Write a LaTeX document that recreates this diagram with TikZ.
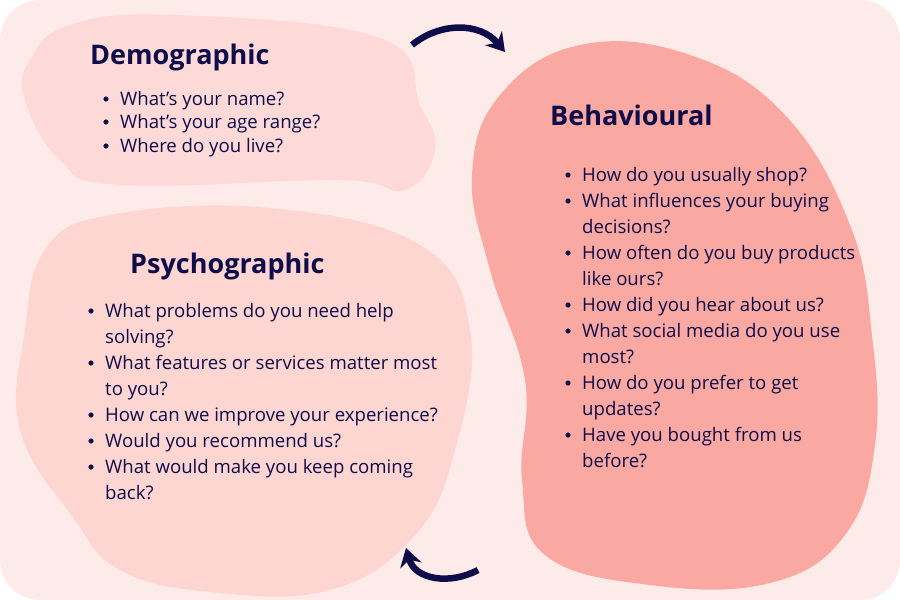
\documentclass[tikz,border=0pt]{standalone}
\usepackage{fontspec}
\setmainfont{Open Sans}
\usetikzlibrary{arrows.meta}
\definecolor{bg}{HTML}{FDEBEA}
\definecolor{demo}{HTML}{FDDAD7}
\definecolor{psy}{HTML}{FDD5D1}
\definecolor{beh}{HTML}{F9A9A1}
\definecolor{navy}{HTML}{0E0C4B}
\begin{document}
\begin{tikzpicture}[x=1pt,y=-1pt,
  title/.style={anchor=base west,font=\fontsize{27}{30}\selectfont\bfseries,text=navy,inner sep=0},
  line/.style={anchor=base west,font=\fontsize{18.6}{20}\selectfont,text=navy,inner sep=0},
  arr/.style={draw=navy,line width=6.5pt,-{Stealth[length=18pt,width=22pt]}}]
\useasboundingbox (0,0) rectangle (900,600);
\fill[bg,rounded corners=40pt] (0,0) rectangle (900,600);
\fill[demo] plot[smooth cycle,tension=0.7] coordinates {(30,60) (70,25) (175,15) (380,38) (420,105) (435,150) (405,190) (340,180) (120,185) (60,160) (25,100)};
\fill[psy] plot[smooth cycle,tension=0.7] coordinates {(45,250) (110,215) (270,208) (420,245) (470,330) (455,450) (415,535) (330,590) (210,592) (120,570) (75,520) (20,430) (25,330)};
\fill[beh] plot[smooth cycle,tension=0.7] coordinates {(500,95) (580,45) (690,55) (785,115) (850,225) (872,335) (875,445) (845,535) (770,583) (650,585) (545,555) (522,480) (525,380) (490,270) (472,175)};
\coordinate (a1) at (412,45); \coordinate (a2) at (505,52);
\draw[arr] (a1) .. controls (440,22) and (480,22) .. (a2);
\coordinate (b1) at (478,570); \coordinate (b2) at (406,548);
\draw[arr] (b1) .. controls (450,585) and (415,580) .. (b2);
\node[title] (t1) at (90,64) {Demographic};
\node[title] (t2) at (550,125) {Behavioural};
\node[title] (t3) at (130,273) {Psychographic};
\newcommand{\itm}[4]{\fill[navy] (#1,#3) circle (2.6pt); \node[line] at (#2,#3+6) {#4};}
\newcommand{\cnt}[3]{\node[line] at (#1,#2+6) {#3};}
\itm{106}{120}{99}{What’s your name?}
\itm{106}{120}{122}{What’s your age range?}
\itm{106}{120}{146}{Where do you live?}
\itm{568}{582}{175}{How do you usually shop?}
\itm{568}{582}{201}{What influences your buying}
\cnt{582}{227}{decisions?}
\itm{568}{582}{253}{How often do you buy products}
\cnt{582}{279}{like ours?}
\itm{568}{582}{305}{How did you hear about us?}
\itm{568}{582}{331}{What social media do you use}
\cnt{582}{357}{most?}
\itm{568}{582}{383}{How do you prefer to get}
\cnt{582}{409}{updates?}
\itm{568}{582}{435}{Have you bought from us}
\cnt{582}{461}{before?}
\itm{91}{105}{311}{What problems do you need help}
\cnt{105}{337}{solving?}
\itm{91}{105}{363}{What features or services matter most}
\cnt{105}{389}{to you?}
\itm{91}{105}{415}{How can we improve your experience?}
\itm{91}{105}{441}{Would you recommend us?}
\itm{91}{105}{467}{What would make you keep coming}
\cnt{105}{493}{back?}
\end{tikzpicture}
\end{document}
